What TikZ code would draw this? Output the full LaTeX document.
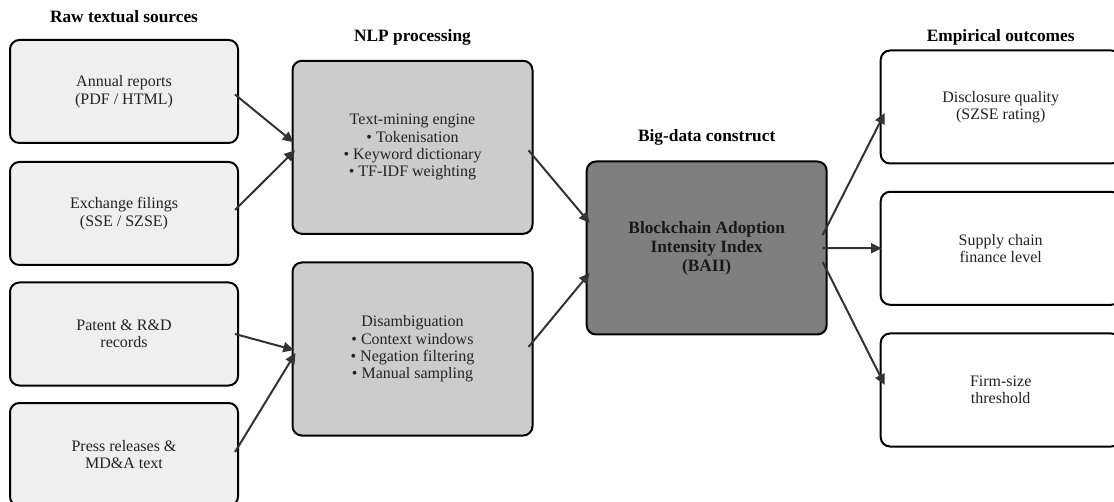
\documentclass[tikz,border=0pt]{standalone}
\usepackage{fontspec}
\setmainfont{Liberation Serif}
\usetikzlibrary{arrows.meta,calc}
\definecolor{srcfill}{HTML}{EFEFEF}
\definecolor{nlpfill}{HTML}{CCCCCC}
\definecolor{baiifill}{HTML}{7F7F7F}
\definecolor{arrcol}{HTML}{333333}
\definecolor{txtcol}{HTML}{222222}
\begin{document}
\begin{tikzpicture}[x=0.75pt,y=-0.75pt,
  box/.style={draw=black, line width=1.5pt, rounded corners=7pt, align=center,
    text=txtcol, font=\fontsize{12}{13}\selectfont, inner sep=0pt},
  srcbox/.style={box, fill=srcfill, minimum width=171pt, minimum height=77.25pt},
  nlpbox/.style={box, fill=nlpfill, minimum width=180pt, minimum height=129.75pt},
  baiibox/.style={box, fill=baiifill, minimum width=180pt, minimum height=129.75pt,
    text=black!90, font=\fontsize{13}{14.3}\selectfont\bfseries},
  outbox/.style={box, fill=white, minimum width=180pt, minimum height=84.75pt},
  header/.style={font=\fontsize{13}{15}\selectfont\bfseries, text=black, inner sep=0pt},
  arr/.style={draw=arrcol, line width=1.5pt, -{Triangle[length=8pt,width=7.5pt]}}
]
\clip (0,0) rectangle (1114,502);
\fill[white] (0,0) rectangle (1114,502);

% headers
\node[header] (h1) at (124,17) {Raw textual sources};
\node[header] (h2) at (412.5,37) {NLP processing};
\node[header] (h3) at (706.7,137.5) {Big-data construct};
\node[header] (h4) at (1000.7,37) {Empirical outcomes};

% source boxes
\node[srcbox] (s1) at (124,91.5) {Annual reports\\(PDF / HTML)};
\node[srcbox] (s2) at (124,213.5) {Exchange filings\\(SSE / SZSE)};
\node[srcbox] (s3) at (124,334) {Patent \& R\&D\\records};
\node[srcbox] (s4) at (124,454.5) {Press releases \&\\MD\&A text};

% NLP boxes
\node[nlpbox] (n1) at (412.5,147.3) {Text-mining engine\\\textbullet\ Tokenisation\\\textbullet\ Keyword dictionary\\\textbullet\ TF-IDF weighting};
\node[nlpbox] (n2) at (412.5,349) {Disambiguation\\\textbullet\ Context windows\\\textbullet\ Negation filtering\\\textbullet\ Manual sampling};

% construct
\node[baiibox] (b) at (706.7,248) {Blockchain Adoption\\Intensity Index\\(BAII)};

% outcomes
\node[outbox] (o1) at (1000.7,107) {Disclosure quality\\(SZSE rating)};
\node[outbox] (o2) at (1000.7,248.3) {Supply chain\\finance level};
\node[outbox] (o3) at (1000.7,390) {Firm-size\\threshold};

% connectors
\draw[arr] ($(s1.east)+(-4,3)$) -- ($(n1.west)+(2,-5)$);
\draw[arr] ($(s2.east)+(-4,-3.5)$) -- ($(n1.west)+(3.5,3)$);
\draw[arr] ($(s3.east)+(-4,0)$) -- ($(n2.west)+(2.5,1)$);
\draw[arr] ($(s4.east)+(-4,-2.5)$) -- ($(n2.west)+(4,4)$);
\draw[arr] ($(n1.east)+(-5,3)$) -- ($(b.west)+(4,-25)$);
\draw[arr] ($(n2.east)+(-5,-2)$) -- ($(b.west)+(4,25)$);
\draw[arr] ($(b.east)+(-5,-13)$) -- ($(o1.west)+(5,6)$);
\draw[arr] ($(b.east)+(-5,0)$) -- ($(o2.west)+(2,0)$);
\draw[arr] ($(b.east)+(-5,14)$) -- ($(o3.west)+(5,-5)$);
\end{tikzpicture}
\end{document}
